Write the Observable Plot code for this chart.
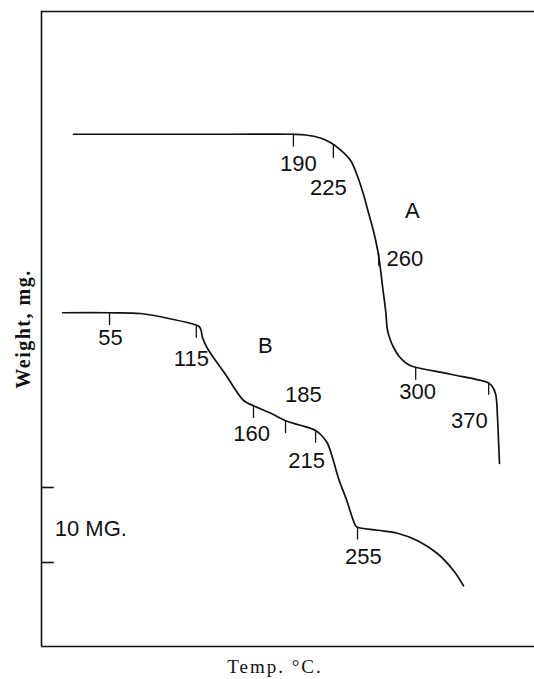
<!DOCTYPE html>
<html>
<head>
<meta charset="utf-8">
<script src="https://cdn.jsdelivr.net/npm/d3@7"></script>
<script src="https://cdn.jsdelivr.net/npm/@observablehq/plot@0.6"></script>
<style>
  html, body { margin: 0; padding: 0; background: #fff; }
  #chart { width: 534px; height: 679px; }
</style>
</head>
<body>
<div id="chart"></div>
<script>
// chart position (arbitrary recorder units, 0–100) and weight (mg)
const curveA_x = [6.5, 22.1, 38.3, 51.1, 53.6, 56.6, 58.6, 60.7, 62.7, 64.1, 65.3, 66.3, 67.3, 68.2, 68.8, 69.2, 69.8, 70.2, 70.8, 71.4, 72.4, 73.4, 74.4, 75.5, 83.0, 90.5, 91.3, 92.1, 92.5, 92.7, 92.9];
const curveA_w = [68.3, 68.3, 68.3, 68.3, 68.2, 67.8, 67.2, 66.2, 64.8, 62.7, 60.3, 57.9, 55.5, 52.8, 50.1, 47.9, 44.8, 42.1, 40.8, 39.9, 38.8, 38.1, 37.6, 37.3, 36.3, 35.2, 34.8, 33.7, 30.5, 27.5, 24.4];

const curveB_x = [4.3, 13.8, 20.1, 26.8, 31.2, 31.9, 32.3, 32.7, 33.7, 37.3, 41.0, 43.0, 46.5, 49.5, 52.5, 55.6, 57.0, 58.0, 59.2, 60.2, 61.9, 63.7, 64.1, 68.2, 72.2, 76.3, 80.3, 83.6, 85.6];
const curveB_w = [44.5, 44.5, 44.4, 43.6, 42.9, 42.7, 42.3, 41.1, 39.7, 36.3, 32.8, 32.1, 31.1, 30.1, 29.5, 28.8, 28.0, 27.1, 24.8, 22.5, 19.5, 16.1, 15.9, 15.5, 15.1, 14.1, 12.4, 10.1, 8.1];

// temperature marks on each curve
const tempsA = [190, 225, 260, 300, 370];
const tickA_x = [51.1, 59.2, 68.4, 75.9, 90.7];
const tickA_w = [68.3, 66.8, 52.4, 37.2, 35.2];
const labelA_x = [52.1, 58.2, 73.7, 76.3, 86.8];
const labelA_w = [64.4, 61.1, 51.7, 33.9, 30.1];

const tempsB = [55, 115, 160, 185, 215, 255];
const tickB_x = [13.8, 31.4, 43.0, 49.5, 55.6, 64.1];
const tickB_w = [44.5, 42.8, 32.1, 30.1, 28.8, 15.9];
const labelB_x = [14.0, 30.4, 42.6, 53.1, 53.8, 65.3];
const labelB_w = [41.2, 38.4, 28.4, 33.5, 24.8, 11.9];

const seriesNames = ["A", "B"];
const seriesLabel_x = [75.2, 45.4];
const seriesLabel_w = [58.1, 40.1];

// 10 mg scale bar on the weight axis
const scaleBar_w = [21.2, 11.2];
const scaleBarText = "10 MG.";

const xLabel = "Temp. °C.";
const yLabel = "Weight, mg.";

// ---- build tables ----
const lineA = curveA_x.map((x, i) => ({x, w: curveA_w[i]}));
const lineB = curveB_x.map((x, i) => ({x, w: curveB_w[i]}));
const ticks = [
  ...tempsA.map((t, i) => ({t, x: tickA_x[i], w: tickA_w[i], lx: labelA_x[i], lw: labelA_w[i]})),
  ...tempsB.map((t, i) => ({t, x: tickB_x[i], w: tickB_w[i], lx: labelB_x[i], lw: labelB_w[i]}))
];
const series = seriesNames.map((s, i) => ({s, x: seriesLabel_x[i], w: seriesLabel_w[i]}));

const TICK = 1.7; // tick length in mg units
const INK = "#111";
const SANS = "Liberation Sans, Arial, sans-serif";
const SERIF = "Liberation Serif, Times New Roman, serif";

const plot = Plot.plot({
  width: 534,
  height: 679,
  marginLeft: 41,
  marginRight: 0,
  marginTop: 11,
  marginBottom: 33,
  x: {domain: [0, 100], axis: null},
  y: {domain: [0, 84.67], axis: null},
  marks: [
    // partial frame: top, left, bottom
    Plot.ruleY([84.67, 0], {stroke: INK, strokeWidth: 1.6}),
    Plot.ruleX([0], {stroke: INK, strokeWidth: 1.6}),
    // scale bar ticks
    Plot.ruleY(scaleBar_w, {x1: 0, x2: 2.6, stroke: INK, strokeWidth: 1.6}),
    Plot.text([scaleBarText], {x: 10.0, y: 15.7, text: d => d, fontSize: 22, fontFamily: SANS, fill: INK}),
    // curves
    Plot.line(lineA, {x: "x", y: "w", stroke: INK, strokeWidth: 1.7, curve: "catmull-rom"}),
    Plot.line(lineB, {x: "x", y: "w", stroke: INK, strokeWidth: 1.7, curve: "catmull-rom"}),
    // temperature ticks and labels
    Plot.ruleX(ticks, {x: "x", y1: "w", y2: d => d.w - TICK, stroke: INK, strokeWidth: 1.3}),
    Plot.text(ticks, {x: "lx", y: "lw", text: d => String(d.t), fontSize: 22, fontFamily: SANS, fill: INK}),
    Plot.text(series, {x: "x", y: "w", text: "s", fontSize: 22, fontFamily: SANS, fill: INK}),
    // axis titles
    Plot.text([yLabel], {frameAnchor: "left", textAnchor: "middle", lineAnchor: "middle", text: d => d, rotate: -90, dx: -18, fontSize: 20, fontFamily: SERIF, fontWeight: "bold", fill: INK}),
    Plot.text([xLabel], {frameAnchor: "bottom", textAnchor: "middle", lineAnchor: "middle", text: d => d, dx: -13, dy: 20, fontSize: 19, fontFamily: SERIF, fill: INK})
  ]
});

d3.select(plot).selectAll("text").each(function() {
  const t = this.textContent;
  if (t === xLabel) this.style.letterSpacing = "2px";
  if (t === yLabel) this.style.letterSpacing = "1.5px";
});

document.getElementById("chart").appendChild(plot);
</script>
</body>
</html>
